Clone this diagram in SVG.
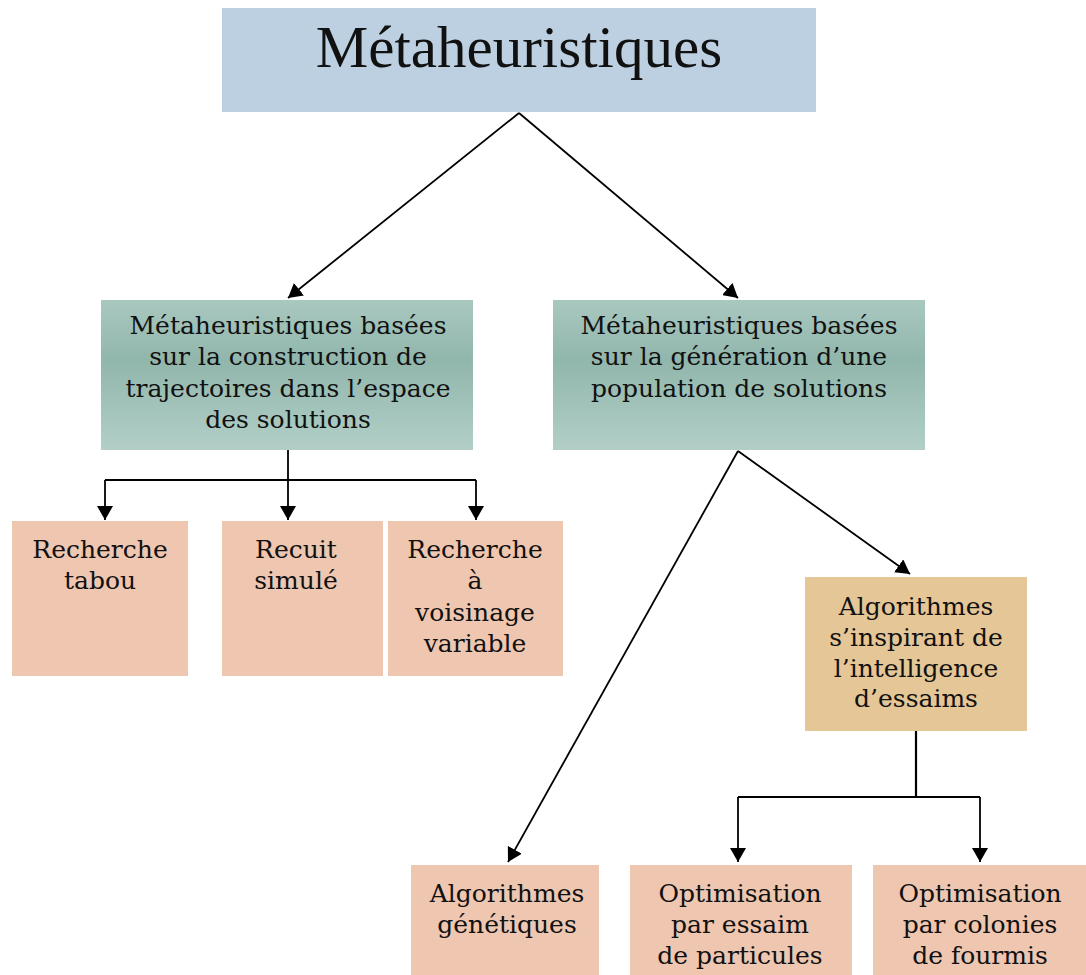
<svg xmlns="http://www.w3.org/2000/svg" width="1086" height="975" viewBox="0 0 1086 975">
<defs>
<linearGradient id="g" x1="0" y1="0" x2="0" y2="1">
<stop offset="0" stop-color="#a9c8c0"/>
<stop offset="0.4" stop-color="#91b6ac"/>
<stop offset="1" stop-color="#b2cfc7"/>
</linearGradient>
<marker id="ah" viewBox="0 0 14 16" refX="14" refY="8" markerWidth="14" markerHeight="16" markerUnits="userSpaceOnUse" orient="auto">
<path d="M0,0 L14,8 L0,16 Z" fill="#000"/>
</marker>
</defs>
<style>
.t{font-family:"DejaVu Serif","Liberation Serif",serif;font-size:25px;fill:#111;text-anchor:middle}
.c{fill:none;stroke:#000;stroke-width:1.8}
.a{marker-end:url(#ah)}
.pink{fill:#efc6b0}
</style>
<rect width="1086" height="975" fill="#fff"/>
<g id="connectors">
<path class="c a" d="M519,113 L288,298"/>
<path class="c a" d="M519,113 L738,298"/>
<path class="c" d="M288,450 L288,480 M105,480 L476,480"/>
<path class="c a" d="M105,480 L105,520"/>
<path class="c a" d="M288,480 L288,520"/>
<path class="c a" d="M476,480 L476,520"/>
<path class="c a" d="M738,451 L910,574"/>
<path class="c a" d="M738,451 L508,862"/>
<path class="c" d="M916,731 L916,797 M738,797 L980,797" style="stroke-width:2.2"/>
<path class="c a" d="M738,797 L738,862"/>
<path class="c a" d="M980,797 L980,862"/>
</g>
<g id="root">
<rect x="222" y="8" width="594" height="104" fill="#bcd0e2"/>
<text x="519" y="67" style="font-family:'Liberation Serif',serif;font-size:59px;fill:#111;text-anchor:middle">Métaheuristiques</text>
</g>
<g id="traj">
<rect x="101" y="300" width="372" height="150" fill="url(#g)"/>
<text class="t" x="288" y="334">Métaheuristiques basées</text>
<text class="t" x="288" y="365">sur la construction de</text>
<text class="t" x="288" y="397">trajectoires dans l’espace</text>
<text class="t" x="288" y="428">des solutions</text>
</g>
<g id="pop">
<rect x="553" y="300" width="372" height="150" fill="url(#g)"/>
<text class="t" x="739" y="334">Métaheuristiques basées</text>
<text class="t" x="739" y="365">sur la génération d’une</text>
<text class="t" x="739" y="397">population de solutions</text>
</g>
<g id="tabou">
<rect class="pink" x="12" y="521" width="176" height="155"/>
<text class="t" x="100" y="558">Recherche</text>
<text class="t" x="100" y="589">tabou</text>
</g>
<g id="recuit">
<rect class="pink" x="222" y="521" width="161" height="155"/>
<text class="t" x="296" y="558">Recuit</text>
<text class="t" x="296" y="589">simulé</text>
</g>
<g id="vns">
<rect class="pink" x="388" y="521" width="175" height="155"/>
<text class="t" x="475" y="558">Recherche</text>
<text class="t" x="475" y="589">à</text>
<text class="t" x="475" y="621">voisinage</text>
<text class="t" x="475" y="652">variable</text>
</g>
<g id="essaims">
<rect x="805" y="577" width="222" height="154" fill="#e5c697"/>
<text class="t" x="916" y="615">Algorithmes</text>
<text class="t" x="916" y="646">s’inspirant de</text>
<text class="t" x="916" y="677">l’intelligence</text>
<text class="t" x="916" y="707">d’essaims</text>
</g>
<g id="ag">
<rect class="pink" x="411" y="865" width="188" height="110"/>
<text class="t" x="507" y="902">Algorithmes</text>
<text class="t" x="507" y="933">génétiques</text>
</g>
<g id="pso">
<rect class="pink" x="630" y="865" width="222" height="110"/>
<text class="t" x="740" y="902">Optimisation</text>
<text class="t" x="740" y="933">par essaim</text>
<text class="t" x="740" y="964">de particules</text>
</g>
<g id="aco">
<rect class="pink" x="873" y="865" width="213" height="110"/>
<text class="t" x="980" y="902">Optimisation</text>
<text class="t" x="980" y="933">par colonies</text>
<text class="t" x="980" y="964">de fourmis</text>
</g>
</svg>
